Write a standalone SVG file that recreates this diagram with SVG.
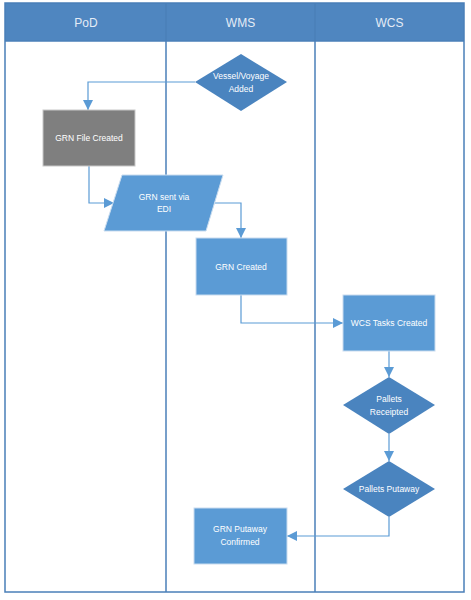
<svg xmlns="http://www.w3.org/2000/svg" width="471" height="600" viewBox="0 0 471 600">
<style>
.lane{fill:none;stroke:#4a7fb8;stroke-width:1.5}
.hdr{fill:#4f86c0}
.htxt{font-family:"Liberation Sans",Arial,sans-serif;font-size:12px;fill:#e4ecf6;text-anchor:middle}
.box{fill:#5b9bd5;stroke:#c9dcef;stroke-width:1}
.gray{fill:#7f7f7f;stroke:#c8c8c8;stroke-width:1}
.dia{fill:#4a84bf}
.t{font-family:"Liberation Sans",Arial,sans-serif;font-size:8.5px;fill:#ffffff;text-anchor:middle}
.c{fill:none;stroke:#5b9bd5;stroke-width:1.2}
</style>
<defs>
<marker id="ah" markerUnits="userSpaceOnUse" markerWidth="10" markerHeight="10" viewBox="0 0 10 10" refX="10" refY="5" orient="auto">
<path d="M0,0 L10,5 L0,10 Z" fill="#5b9bd5"/>
</marker>
</defs>
<rect x="0" y="0" width="471" height="600" fill="#ffffff"/>
<g id="lanes">
<rect class="hdr" x="5" y="3" width="459" height="38"/>
<rect class="lane" x="5" y="3" width="459" height="589"/>
<line class="lane" x1="5" y1="41" x2="464" y2="41" stroke="#c9dcef"/>
<line class="lane" x1="166" y1="3" x2="166" y2="592"/>
<line class="lane" x1="315" y1="3" x2="315" y2="592"/>
<text class="htxt" x="86" y="27">PoD</text>
<text class="htxt" x="240.5" y="27">WMS</text>
<text class="htxt" x="389.5" y="27">WCS</text>
</g>
<g id="connectors">
<path class="c" d="M195,82 H88 V110" marker-end="url(#ah)"/>
<path class="c" d="M89,166 V203 H114" marker-end="url(#ah)"/>
<path class="c" d="M215,203 H241 V238" marker-end="url(#ah)"/>
<path class="c" d="M241,295 V323 H343" marker-end="url(#ah)"/>
<path class="c" d="M389,351 V377" marker-end="url(#ah)"/>
<path class="c" d="M389,434 V461" marker-end="url(#ah)"/>
<path class="c" d="M389,517 V536 H287" marker-end="url(#ah)"/>
</g>
<g id="vessel-voyage-added">
<polygon class="dia" points="241,54 287,82 241,111 195,82"/>
<text class="t" x="241" y="79">Vessel/Voyage</text>
<text class="t" x="241" y="92">Added</text>
</g>
<g id="grn-file-created">
<rect class="gray" x="43" y="110" width="92" height="56"/>
<text class="t" x="89" y="141">GRN File Created</text>
</g>
<g id="grn-sent-via-edi">
<polygon class="box" points="122,175 223,175 206,231 104,231"/>
<text class="t" x="164" y="200">GRN sent via</text>
<text class="t" x="164" y="212">EDI</text>
</g>
<g id="grn-created">
<rect class="box" x="196" y="238" width="91" height="57"/>
<text class="t" x="241" y="270">GRN Created</text>
</g>
<g id="wcs-tasks-created">
<rect class="box" x="343" y="295" width="92" height="56"/>
<text class="t" x="389" y="326">WCS Tasks Created</text>
</g>
<g id="pallets-receipted">
<polygon class="dia" points="389,377 435,405 389,434 343,405"/>
<text class="t" x="389" y="402">Pallets</text>
<text class="t" x="389" y="415">Receipted</text>
</g>
<g id="pallets-putaway">
<polygon class="dia" points="389,461 435,489 389,517 343,489"/>
<text class="t" x="389" y="492">Pallets Putaway</text>
</g>
<g id="grn-putaway-confirmed">
<rect class="box" x="194" y="508" width="93" height="56"/>
<text class="t" x="240" y="532">GRN Putaway</text>
<text class="t" x="240" y="545">Confirmed</text>
</g>
</svg>
